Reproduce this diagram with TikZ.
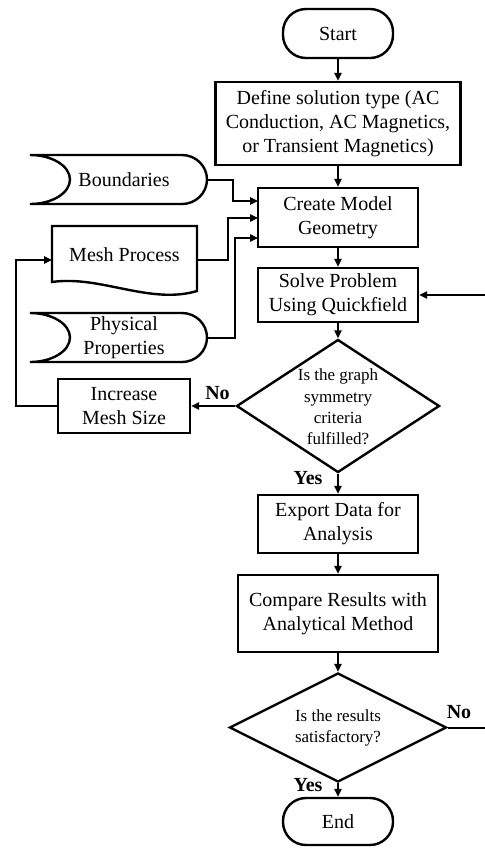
\documentclass[tikz,border=0pt]{standalone}
\usepackage{fontspec}
\setmainfont{Liberation Serif}
\usetikzlibrary{shapes.geometric,arrows.meta}
\begin{document}
\begin{tikzpicture}[x=0.5pt,y=-0.5pt,
  box/.style={draw,line width=1.2pt,inner sep=0pt,align=center,font=\fontsize{10}{12}\selectfont},
  term/.style={box,rounded corners=11.5pt},
  dia/.style={draw,diamond,line width=1.2pt,inner sep=0pt},
  diatext/.style={align=center,font=\fontsize{8.5}{10.6}\selectfont,inner sep=0pt},
  lbl/.style={font=\fontsize{10}{12}\selectfont\bfseries,inner sep=0pt},
  arr/.style={line width=1pt,-{Triangle[length=4pt,width=3.6pt]}},
  ln/.style={line width=1pt},
  shp/.style={line width=1.2pt},
  txt/.style={align=center,font=\fontsize{10}{12}\selectfont,inner sep=0pt}]
\fill[white] (0,0) rectangle (485,848);
\useasboundingbox (0,0) rectangle (485,848);

% main column
\node[term,minimum width=55pt,minimum height=24.5pt] (start) at (338,33.5) {Start};
\node[box,minimum width=122.5pt,minimum height=41.5pt] (define) at (338,123.5)
  {Define solution type (AC\\Conduction, AC Magnetics,\\or Transient Magnetics)};
\node[box,minimum width=80pt,minimum height=29.5pt] (create) at (338,217.5) {Create Model\\Geometry};
\node[box,minimum width=80pt,minimum height=27pt] (solve) at (338,295) {Solve Problem\\Using Quickfield};
\node[dia,minimum width=101.5pt,minimum height=66.5pt] (d1) at (338,406) {};
\node[diatext] (d1t) at (338,407) {Is the graph\\symmetry\\criteria\\fulfilled?};
\node[box,minimum width=80pt,minimum height=29pt] (export) at (338,524) {Export Data for\\Analysis};
\node[box,minimum width=100pt,minimum height=38.5pt] (compare) at (338,613.5) {Compare Results with\\Analytical Method};
\node[dia,minimum width=108.5pt,minimum height=54.5pt] (d2) at (338,727.5) {};
\node[diatext] (d2t) at (338,728) {Is the results\\satisfactory?};
\node[term,minimum width=55pt,minimum height=23.5pt] (end) at (338,821.5) {End};

% left column
\node[box,minimum width=66pt,minimum height=27pt] (inc) at (124,406) {Increase\\Mesh Size};

% Boundaries (stored data)
\draw[shp] (30,155) -- (182,155) arc[start angle=90,end angle=-90,x radius=12.5pt,y radius=12.25pt]
  -- (30,204) arc[start angle=-90,end angle=90,x radius=20pt,y radius=12.25pt] -- cycle;
\node[txt] (bndt) at (124,180) {Boundaries};
\coordinate (bndE) at (207,179.5);

% Mesh Process (document)
\draw[shp] (52,226) -- (197,226) -- (197,291) .. controls (150,305) and (100,275) .. (52,282) -- cycle;
\node[txt] (mesht) at (124.5,255) {Mesh Process};
\coordinate (meshE) at (197,260);
\coordinate (meshW) at (52,260);

% Physical Properties (stored data)
\draw[shp] (30,313) -- (182,313) arc[start angle=90,end angle=-90,x radius=12.5pt,y radius=12.25pt]
  -- (30,362) arc[start angle=-90,end angle=90,x radius=20pt,y radius=12.25pt] -- cycle;
\node[txt] (physt) at (124,337.5) {Physical\\Properties};
\coordinate (physE) at (207,337.5);

% entry points on Create Model
\coordinate (ci1) at (258,201);
\coordinate (ci2) at (258,218);
\coordinate (ci3) at (258,238);
\coordinate (rin) at (485,295);
\coordinate (rout) at (485,727.5);

% connectors
\draw[arr] (start.south) -- (define.north);
\draw[arr] (define.south) -- (create.north);
\draw[arr] (bndE) -- (233,179.5) |- (ci1);
\draw[arr] (meshE) -- (228,260) |- (ci2);
\draw[arr] (physE) -- (235,337.5) |- (ci3);
\draw[arr] (create.south) -- (solve.north);
\draw[arr] (rin) -- (solve.east);
\draw[arr] (solve.south) -- (d1.north);
\draw[arr] (d1.west) -- (inc.east);
\draw[arr] (inc.west) -- (16,406) |- (meshW);
\draw[arr] (d1.south) -- (export.north);
\draw[arr] (export.south) -- (compare.north);
\draw[arr] (compare.south) -- (d2.north);
\draw[ln] (d2.east) -- (rout);
\draw[arr] (d2.south) -- (end.north);

% labels
\node[lbl] (no1) at (217.5,393) {No};
\node[lbl] (yes1) at (308,478) {Yes};
\node[lbl] (no2) at (459,712) {No};
\node[lbl] (yes2) at (308,785) {Yes};
\end{tikzpicture}
\end{document}
